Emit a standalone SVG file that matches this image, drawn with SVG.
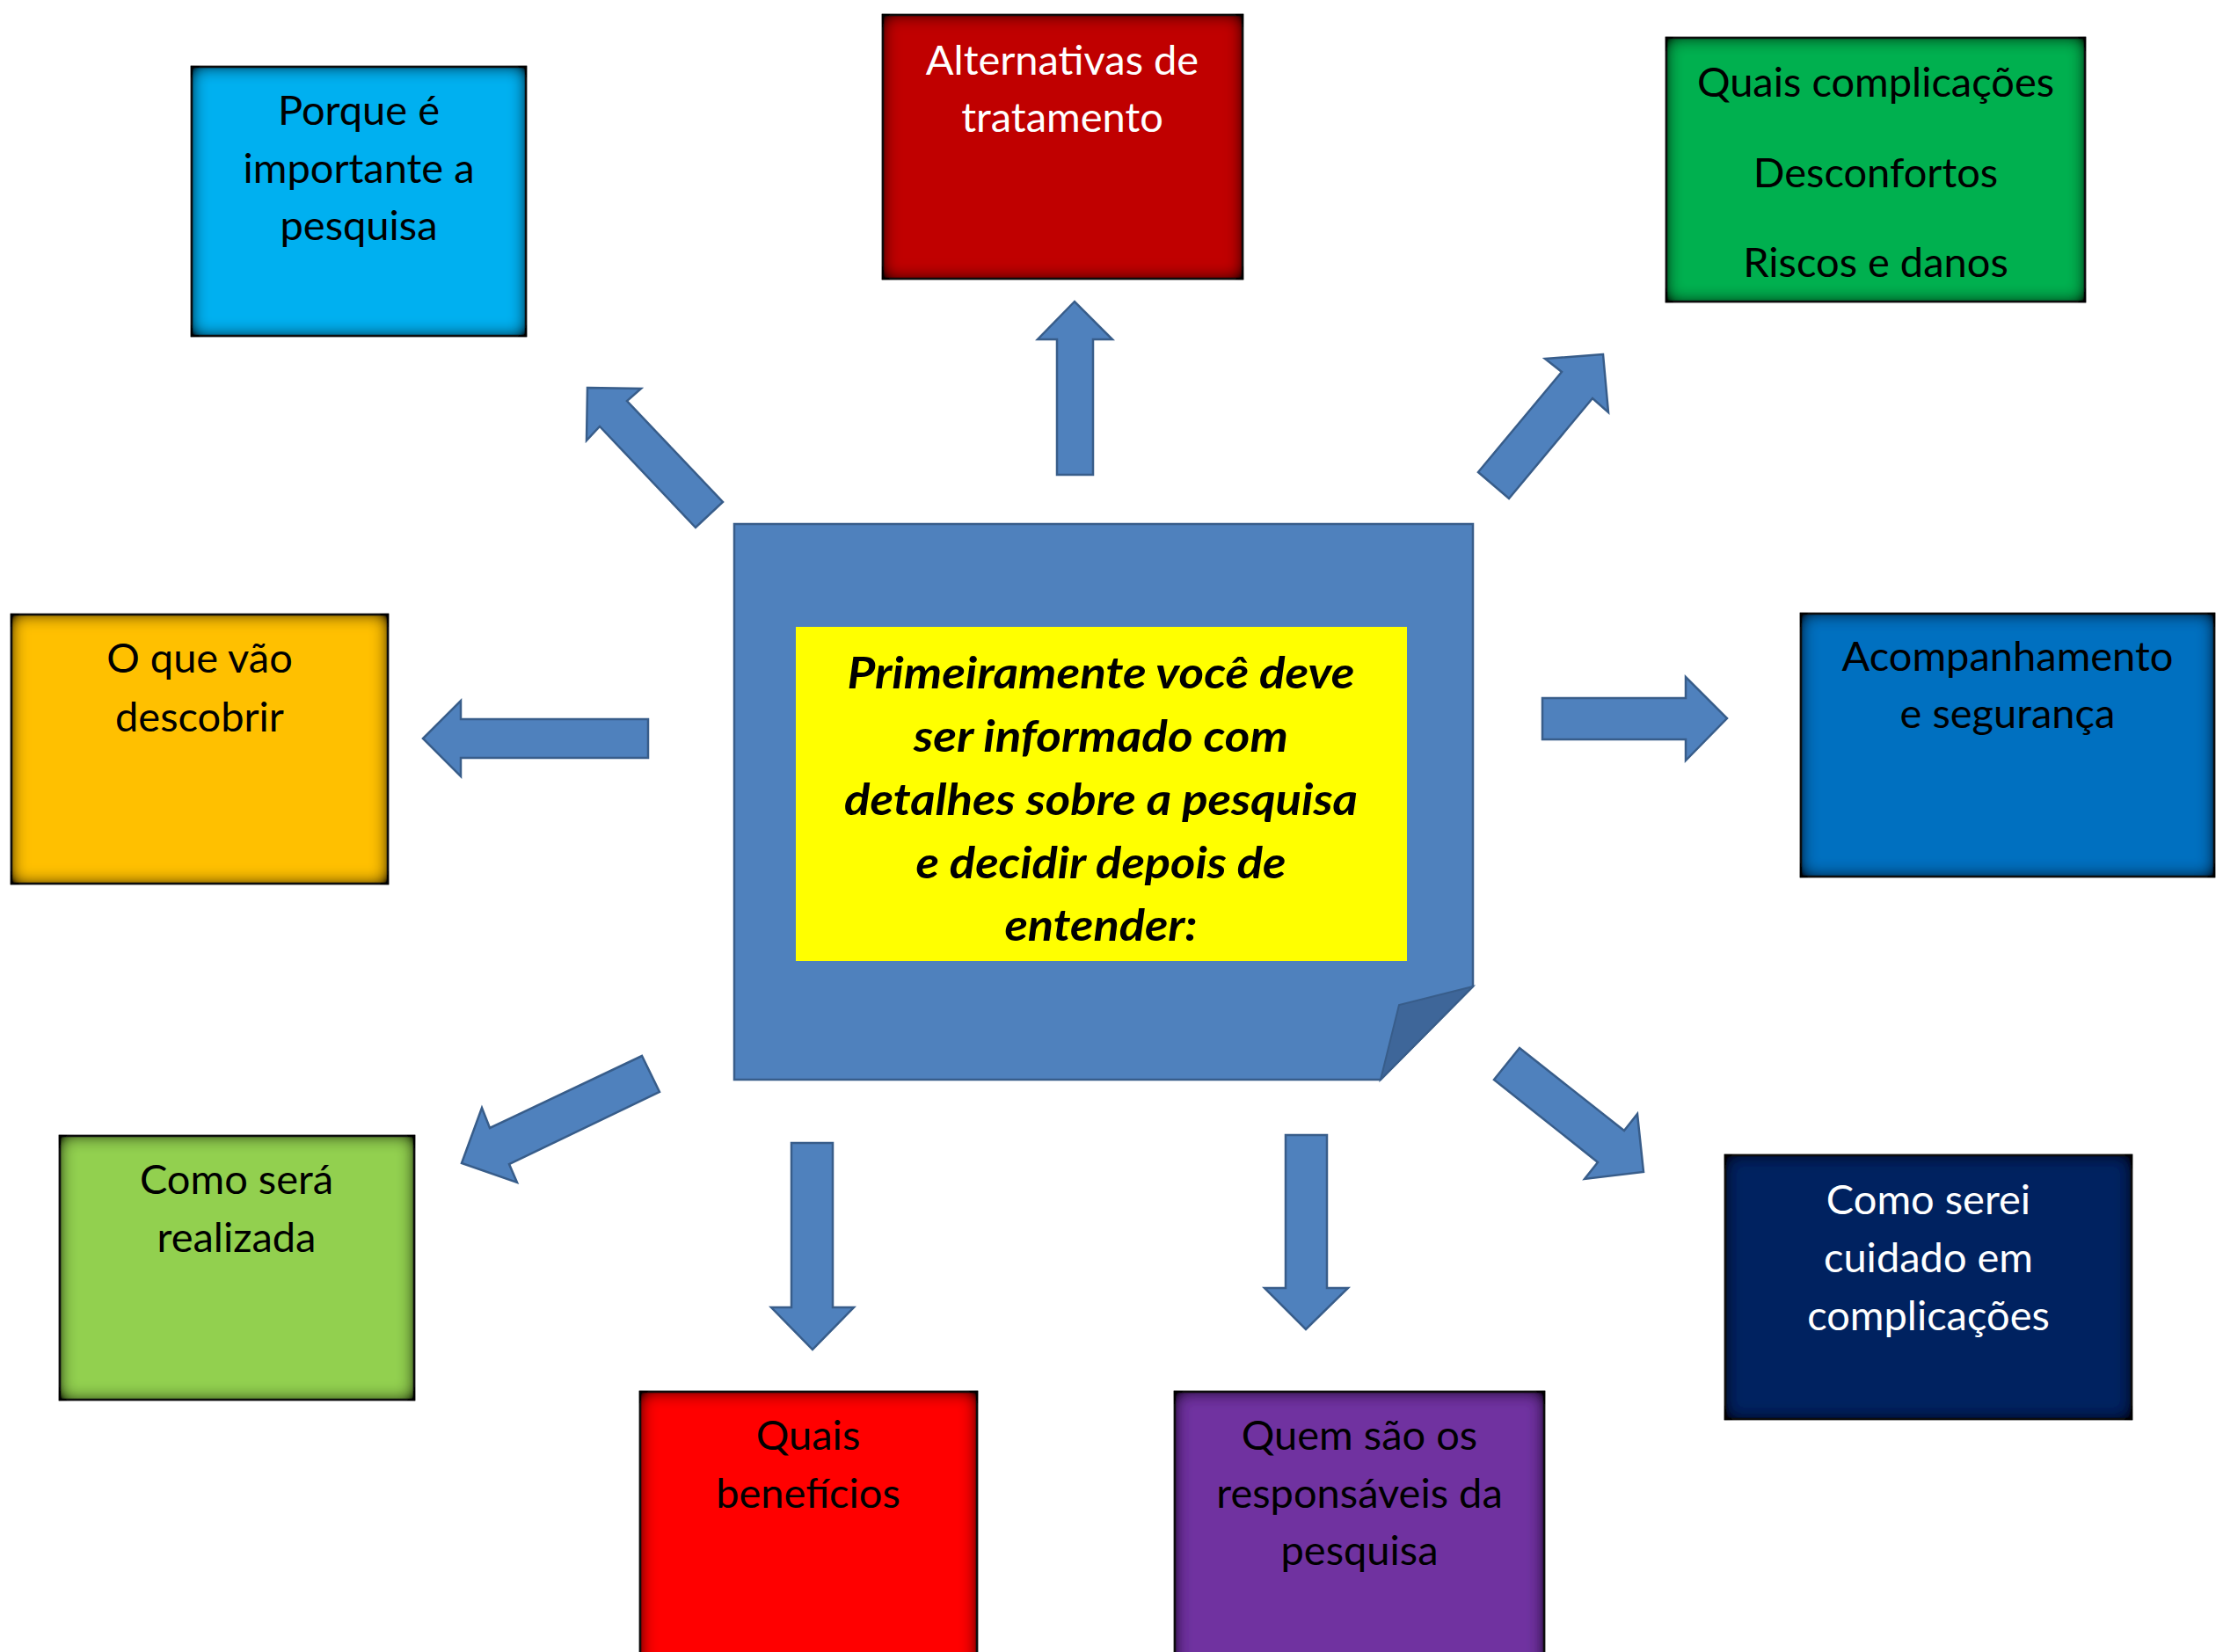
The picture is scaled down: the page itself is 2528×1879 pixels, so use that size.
<svg xmlns="http://www.w3.org/2000/svg" width="2528" height="1879" viewBox="0 0 2528 1879">
<defs>
<style>
.box{stroke:#1a1a1a;stroke-width:2.5}
.lbl{font-family:Lato,"Liberation Sans",sans-serif;font-size:47px;text-anchor:middle;fill:#000}
.w{fill:#fff}
.arrow{fill:#4f81bd;stroke:#385d8a;stroke-width:2.5;stroke-linejoin:miter}
.ctr{font-family:Lato,"Liberation Sans",sans-serif;font-size:50px;font-weight:bold;font-style:italic;text-anchor:middle;fill:#000}
</style>
<filter id="inset" x="-5%" y="-5%" width="110%" height="110%">
<feFlood flood-color="#000" result="f"/>
<feComposite in="f" in2="SourceAlpha" operator="out" result="inv"/>
<feGaussianBlur in="inv" stdDeviation="10" result="blur"/>
<feComposite in="blur" in2="SourceAlpha" operator="in" result="sh0"/>
<feComponentTransfer in="sh0" result="shadow"><feFuncA type="linear" slope="1.7"/></feComponentTransfer>
<feMerge><feMergeNode in="SourceGraphic"/><feMergeNode in="shadow"/></feMerge>
</filter>
</defs>
<rect width="2528" height="1879" fill="#fff"/>

<g id="center">
<path d="M835,596 L1675,596 L1675,1122 L1570,1228 L835,1228 Z" fill="#4f81bd" stroke="#385d8a" stroke-width="2.5"/>
<path d="M1675,1122 L1591,1143 L1570,1228 Z" fill="#3e6699" stroke="#385d8a" stroke-width="2"/>
<rect x="905" y="713" width="695" height="380" fill="#ffff00"/>
<text class="ctr" x="1252" y="783" textLength="577" lengthAdjust="spacingAndGlyphs">Primeiramente você deve</text>
<text class="ctr" x="1252" y="855" textLength="426" lengthAdjust="spacingAndGlyphs">ser informado com</text>
<text class="ctr" x="1252" y="927" textLength="584" lengthAdjust="spacingAndGlyphs">detalhes sobre a pesquisa</text>
<text class="ctr" x="1252" y="999" textLength="421" lengthAdjust="spacingAndGlyphs">e decidir depois de</text>
<text class="ctr" x="1252" y="1070" textLength="219" lengthAdjust="spacingAndGlyphs">entender:</text>
</g>

<g id="connectors">
<polygon class="arrow" points="1202,540 1202,386 1180,386 1222,343 1265,386 1243,386 1243,540"/>
<polygon class="arrow" points="668,441 729,442 713,456 822,571 791,600 682,485 667,501"/>
<polygon class="arrow" points="1823,403 1757,408 1776,423 1681,537 1716,567 1811,453 1829,469"/>
<polygon class="arrow" points="481,840 524,797 524,818 737,818 737,862 524,862 524,883"/>
<polygon class="arrow" points="1754,794 1917,794 1917,770 1964,817 1917,865 1917,841 1754,841"/>
<polygon class="arrow" points="525,1323 548,1260 557,1283 730,1201 750,1242 579,1324 588,1345"/>
<polygon class="arrow" points="900,1300 947,1300 947,1487 971,1487 924,1535 877,1487 900,1487"/>
<polygon class="arrow" points="1462,1291 1509,1291 1509,1465 1533,1465 1485,1512 1438,1465 1462,1465"/>
<polygon class="arrow" points="1728,1192 1847,1286 1862,1267 1869,1333 1802,1341 1817,1322 1699,1228"/>
</g>

<g id="porque">
<rect class="box" x="218" y="76" width="380" height="306" fill="#00b0f0" filter="url(#inset)"/>
<text class="lbl" x="408" y="142">Porque é</text>
<text class="lbl" x="408" y="208">importante a</text>
<text class="lbl" x="408" y="273">pesquisa</text>
</g>

<g id="alternativas">
<rect class="box" x="1004" y="17" width="409" height="300" fill="#c00000" filter="url(#inset)"/>
<text class="lbl w" x="1208" y="85">Alternativas de</text>
<text class="lbl w" x="1208" y="150">tratamento</text>
</g>

<g id="complicacoes">
<rect class="box" x="1895" y="43" width="476" height="300" fill="#00b050" filter="url(#inset)"/>
<text class="lbl" x="2133" y="110">Quais complicações</text>
<text class="lbl" x="2133" y="213">Desconfortos</text>
<text class="lbl" x="2133" y="315">Riscos e danos</text>
</g>

<g id="descobrir">
<rect class="box" x="13" y="699" width="428" height="306" fill="#ffc000" filter="url(#inset)"/>
<text class="lbl" x="227" y="765">O que vão</text>
<text class="lbl" x="227" y="832">descobrir</text>
</g>

<g id="acompanhamento">
<rect class="box" x="2048" y="698" width="470" height="299" fill="#0070c0" filter="url(#inset)"/>
<text class="lbl" x="2283" y="763">Acompanhamento</text>
<text class="lbl" x="2283" y="828">e segurança</text>
</g>

<g id="realizada">
<rect class="box" x="68" y="1292" width="403" height="300" fill="#92d050" filter="url(#inset)"/>
<text class="lbl" x="269" y="1358">Como será</text>
<text class="lbl" x="269" y="1424">realizada</text>
</g>

<g id="beneficios">
<rect class="box" x="728" y="1583" width="383" height="320" fill="#ff0000" filter="url(#inset)"/>
<text class="lbl" x="919" y="1649">Quais</text>
<text class="lbl" x="919" y="1715">benefícios</text>
</g>

<g id="responsaveis">
<rect class="box" x="1336" y="1583" width="420" height="320" fill="#7030a0" filter="url(#inset)"/>
<text class="lbl" x="1546" y="1649">Quem são os</text>
<text class="lbl" x="1546" y="1715">responsáveis da</text>
<text class="lbl" x="1546" y="1780">pesquisa</text>
</g>

<g id="cuidado">
<rect class="box" x="1962" y="1314" width="462" height="300" fill="#002060" filter="url(#inset)"/>
<text class="lbl w" x="2193" y="1381">Como serei</text>
<text class="lbl w" x="2193" y="1447">cuidado em</text>
<text class="lbl w" x="2193" y="1513">complicações</text>
</g>
</svg>
